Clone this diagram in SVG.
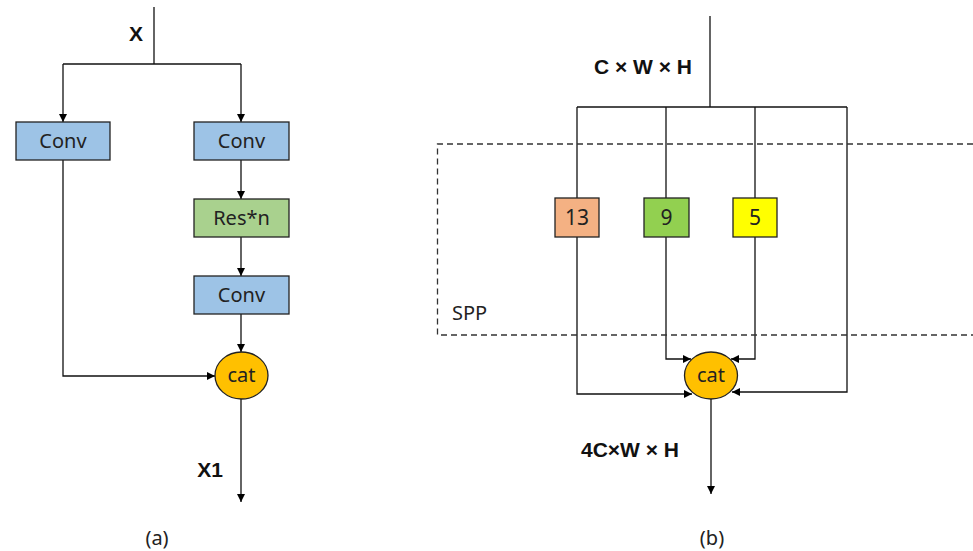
<svg xmlns="http://www.w3.org/2000/svg" width="973" height="551" viewBox="0 0 973 551">
<defs>
<marker id="ah" viewBox="0 0 10 10" refX="10" refY="5" markerWidth="8" markerHeight="8" markerUnits="userSpaceOnUse" orient="auto">
<path d="M0,0 L10,5 L0,10 z" fill="#000"/>
</marker>
</defs>
<style>
.ln{fill:none;stroke:#111;stroke-width:1.3}
.box{stroke:#222;stroke-width:1.3}
.t{font-family:"Noto Sans","Liberation Sans",sans-serif;font-size:20px;fill:#222;text-anchor:middle}
.b{font-family:"Liberation Sans",Arial,sans-serif;font-size:21px;font-weight:bold;fill:#111;text-anchor:middle}
.conv{fill:#9DC3E6}
.cat{fill:#FFC000}
</style>
<rect width="973" height="551" fill="#fff"/>
<g id="connectors">
<!-- (a) -->
<path class="ln" d="M154,7 V64"/>
<path class="ln" d="M63,64 H241"/>
<path class="ln" d="M63,64 V122" marker-end="url(#ah)"/>
<path class="ln" d="M241,64 V122" marker-end="url(#ah)"/>
<path class="ln" d="M241,160 V199" marker-end="url(#ah)"/>
<path class="ln" d="M241,237 V276" marker-end="url(#ah)"/>
<path class="ln" d="M241,314 V352" marker-end="url(#ah)"/>
<path class="ln" d="M63,160 V376 H215" marker-end="url(#ah)"/>
<path class="ln" d="M241,399 V502" marker-end="url(#ah)"/>
<!-- (b) -->
<path class="ln" d="M710,16 V107"/>
<path class="ln" d="M577,107 H847"/>
<path class="ln" d="M577,107 V198"/>
<path class="ln" d="M666,107 V198"/>
<path class="ln" d="M755,107 V198"/>
<path class="ln" d="M666,237 V359 H691" marker-end="url(#ah)"/>
<path class="ln" d="M755,237 V359 H731" marker-end="url(#ah)"/>
<path class="ln" d="M577,237 V394 H692" marker-end="url(#ah)"/>
<path class="ln" d="M847,107 V392 H732" marker-end="url(#ah)"/>
<path class="ln" d="M711,399 V494" marker-end="url(#ah)"/>
</g>
<g id="spp">
<path d="M973,144 H437.5 V335 H973" fill="none" stroke="#333" stroke-width="1.3" stroke-dasharray="6,4"/>
<text x="452" y="320" class="t" style="text-anchor:start">SPP</text>
</g>
<g id="labels">
<text x="136" y="41" class="b">X</text>
<text x="210" y="477" class="b">X1</text>
<text x="643" y="74" class="b">C × W × H</text>
<text x="630" y="457" class="b">4C×W × H</text>
<text x="157" y="545" class="t">(a)</text>
<text x="712" y="545" class="t">(b)</text>
</g>
<g id="conv1"><rect x="16" y="122" width="94" height="38" class="box conv"/><text x="63" y="148" class="t">Conv</text></g>
<g id="conv2"><rect x="194" y="122" width="95" height="38" class="box conv"/><text x="241.5" y="148" class="t">Conv</text></g>
<g id="res"><rect x="194" y="199" width="95" height="38" fill="#A9D18E" class="box"/><text x="241.5" y="225" class="t">Res*n</text></g>
<g id="conv3"><rect x="194" y="276" width="95" height="38" class="box conv"/><text x="241.5" y="302" class="t">Conv</text></g>
<g id="cat-a"><ellipse cx="241.5" cy="375.5" rx="26.5" ry="23.5" class="box cat"/><text x="241.5" y="382" class="t">cat</text></g>
<g id="k13"><rect x="555" y="198" width="44" height="39" fill="#F4B183" class="box"/><text x="577" y="225" class="t" style="font-size:21px">13</text></g>
<g id="k9"><rect x="644" y="198" width="45" height="39" fill="#92D050" class="box"/><text x="666.5" y="225" class="t" style="font-size:21px">9</text></g>
<g id="k5"><rect x="733" y="198" width="44" height="39" fill="#FFFF00" class="box"/><text x="755" y="225" class="t" style="font-size:21px">5</text></g>
<g id="cat-b"><ellipse cx="711" cy="375.5" rx="26.5" ry="23.5" class="box cat"/><text x="711" y="382" class="t">cat</text></g>
</svg>
